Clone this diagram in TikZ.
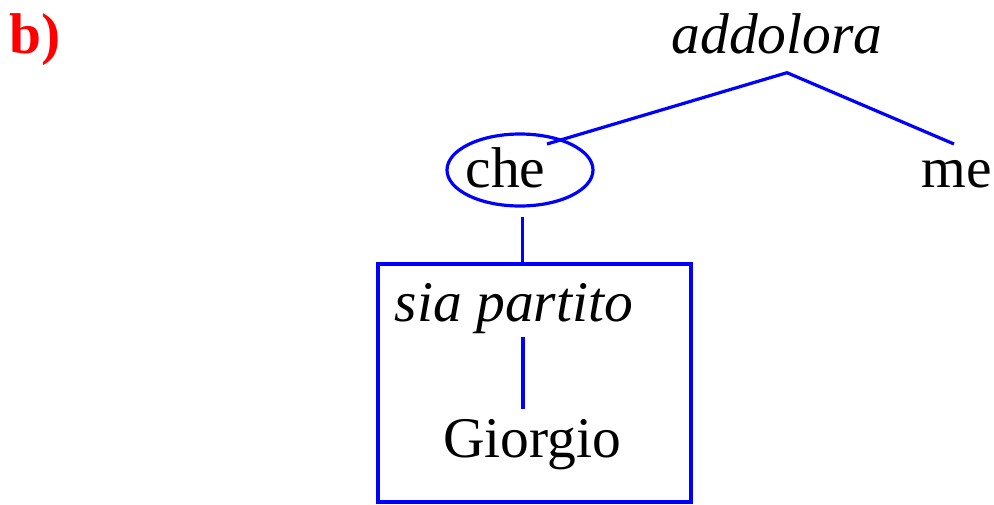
\documentclass[tikz,border=0pt]{standalone}
\usepackage{fontspec}
\setmainfont{Liberation Serif}
\newfontfamily\tms{Liberation Serif}
\usetikzlibrary{shapes.geometric}

\tikzset{
  word/.style={anchor=base, inner sep=0pt, font=\tms\fontsize{57.5}{69}\selectfont},
  link/.style={draw=blue, line width=3.2pt},
}

\begin{document}
\begin{tikzpicture}[x=1pt, y=-1pt]
  \useasboundingbox (0,0) rectangle (994,504);
  \node[word, text=red, font=\tms\fontsize{57.5}{69}\selectfont\bfseries] (b) at (35,53) {b)};
  \node[word] (addolora) at (777,53) {\textit{addolora}};
  \node[word] (che) at (505.5,187) {che};
  \node[word] (me) at (957,187) {me};
  \node[word] (sia) at (514,321) {\textit{sia partito}};
  \node[word] (giorgio) at (532,457) {Giorgio};
  \node[link, ellipse, minimum width=146, minimum height=72] (oval) at (520,170) {};
  \node[link, rectangle, minimum width=313, minimum height=238] (box) at (534.5,383) {};
  % tree branches
  \coordinate (top) at (787,72.7);
  \coordinate (l) at (547,144);
  \coordinate (r) at (954,144);
  \coordinate (d1) at (522.7,217);
  \coordinate (d2) at (522.7,264);
  \coordinate (e1) at (523,337);
  \coordinate (e2) at (523,409);
  \draw[link] (l) -- (top) -- (r);
  \draw[link] (d1) -- (d2);
  \draw[link] (e1) -- (e2);
\end{tikzpicture}
\end{document}
